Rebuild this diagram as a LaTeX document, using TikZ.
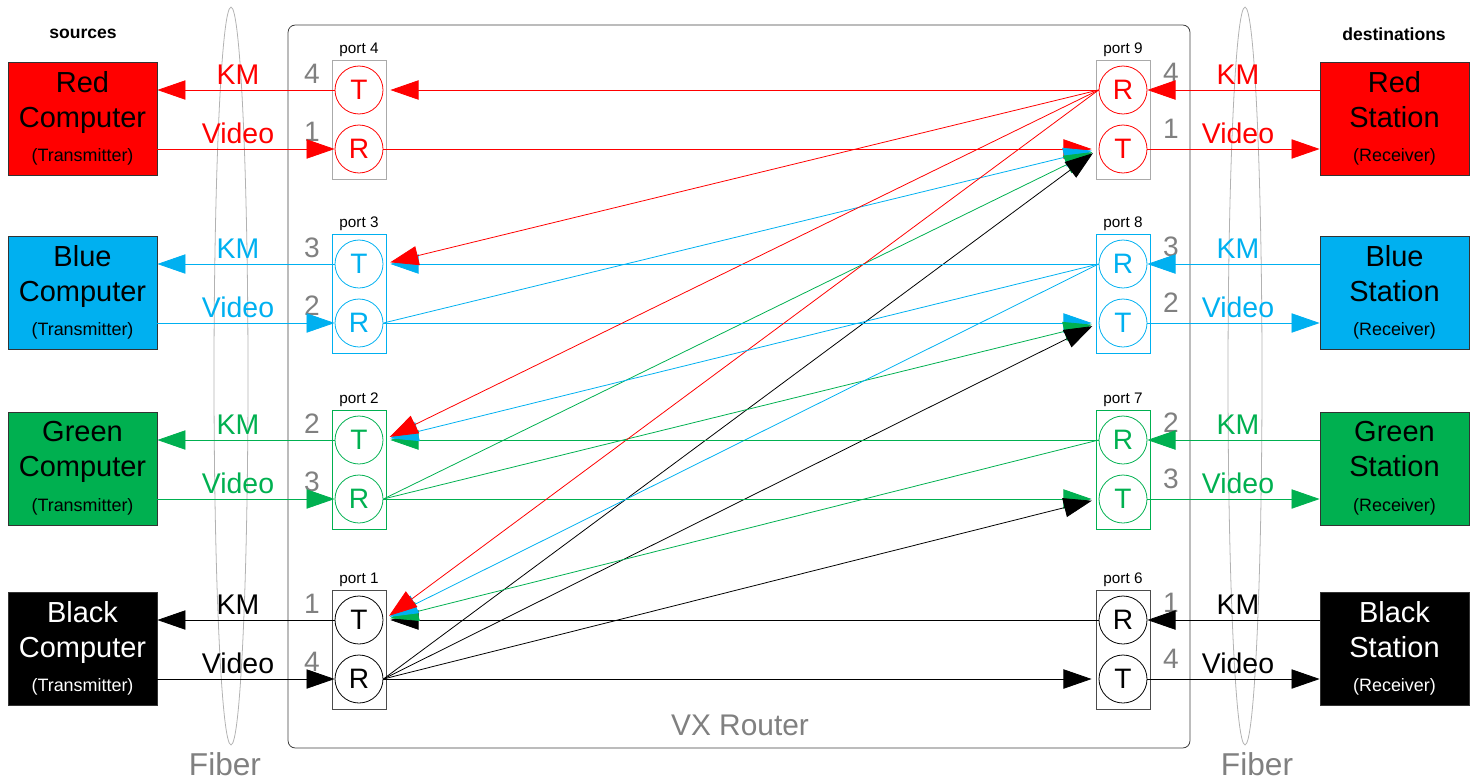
\documentclass[tikz,border=0pt]{standalone}
\usepackage{fontspec}
\setmainfont{Liberation Sans}
\usetikzlibrary{arrows.meta}

\definecolor{vxred}{RGB}{255,0,0}
\definecolor{vxblue}{RGB}{0,176,240}
\definecolor{vxgreen}{RGB}{0,176,80}
\definecolor{numgray}{RGB}{128,128,128}
\definecolor{boxgray}{RGB}{170,170,170}

\begin{document}
\begin{tikzpicture}[x=0.02cm,y=-0.02cm,
	line width=0.45pt,
	host/.style={draw=black!80,minimum width=2.98cm,minimum height=2.26cm,align=center,inner sep=0pt,
		font=\fontsize{16.5}{19.8}\selectfont},
	portbox/.style={draw,minimum width=1.08cm,minimum height=2.38cm,inner sep=0pt},
	jack/.style={shape=circle,draw,minimum size=0.96cm,inner sep=0pt,font=\fontsize{16}{18}\selectfont},
	portname/.style={anchor=south,inner sep=1.5pt,font=\fontsize{8.7}{10}\selectfont},
	num/.style={text=numgray,font=\fontsize{16}{18}\selectfont},
	sig/.style={font=\fontsize{16.2}{18}\selectfont},
	link/.style={-{Triangle[length=16pt,width=11pt]}},
	cross/.style={-{Triangle[length=16pt,width=11pt]},shorten >=4pt}]

	\useasboundingbox (0,0) rectangle (1477,781);

	% router and fiber
	\node[draw=black!75,rounded corners=4pt,minimum width=18.04cm,minimum height=14.46cm] (vx) at (739,386.5) {};
	\node[text=numgray,font=\fontsize{17}{20}\selectfont] (vxname) at (740,725) {VX Router};
	\draw[black!30] (231,376) ellipse [x radius=0.34cm, y radius=7.38cm];
	\draw[black!30] (1245,376) ellipse [x radius=0.34cm, y radius=7.38cm];
	\node[text=numgray,font=\fontsize{18}{21}\selectfont] (fibl) at (225,764) {Fiber};
	\node[text=numgray,font=\fontsize{18}{21}\selectfont] (fibr) at (1257,764) {Fiber};

	\node[font=\fontsize{10}{12}\selectfont\bfseries] (src) at (83,34) {sources};
	\node[font=\fontsize{10}{12}\selectfont\bfseries] (dst) at (1394,34) {destinations};

	% sources
	\node[host,fill=vxred] (rc) at (82.5,118.5) {Red\\Computer\\{\fontsize{10.2}{11}\selectfont(Transmitter)}};
	\node[host,fill=vxblue] (bc) at (82.5,292.5) {Blue\\Computer\\{\fontsize{10.2}{11}\selectfont(Transmitter)}};
	\node[host,fill=vxgreen] (gc) at (82.5,468.5) {Green\\Computer\\{\fontsize{10.2}{11}\selectfont(Transmitter)}};
	\node[host,fill=black,text=white] (kc) at (82.5,648.5) {Black\\Computer\\{\fontsize{10.2}{11}\selectfont(Transmitter)}};

	% destinations
	\node[host,fill=vxred] (rs) at (1394.5,118.5) {Red\\Station\\{\fontsize{10.2}{11}\selectfont(Receiver)}};
	\node[host,fill=vxblue] (bs) at (1394.5,292.5) {Blue\\Station\\{\fontsize{10.2}{11}\selectfont(Receiver)}};
	\node[host,fill=vxgreen] (gs) at (1394.5,468.5) {Green\\Station\\{\fontsize{10.2}{11}\selectfont(Receiver)}};
	\node[host,fill=black,text=white] (ks) at (1394.5,648.5) {Black\\Station\\{\fontsize{10.2}{11}\selectfont(Receiver)}};

	% left ports
	\node[portbox,draw=boxgray] (p4) at (359,119.5) {};
	\node[jack,vxred] (p4T) at (359,90) {T};
	\node[jack,vxred] (p4R) at (359,149) {R};
	\node[portname] at (p4.north) {port 4};

	\node[portbox,draw=vxblue] (p3) at (359,293.5) {};
	\node[jack,vxblue] (p3T) at (359,264) {T};
	\node[jack,vxblue] (p3R) at (359,323) {R};
	\node[portname] at (p3.north) {port 3};

	\node[portbox,draw=vxgreen] (p2) at (359,469.5) {};
	\node[jack,vxgreen] (p2T) at (359,440) {T};
	\node[jack,vxgreen] (p2R) at (359,499) {R};
	\node[portname] at (p2.north) {port 2};

	\node[portbox,draw=black!70] (p1) at (359,649.5) {};
	\node[jack,black] (p1T) at (359,620) {T};
	\node[jack,black] (p1R) at (359,679) {R};
	\node[portname] at (p1.north) {port 1};

	% right ports
	\node[portbox,draw=boxgray] (p9) at (1123,119.5) {};
	\node[jack,vxred] (p9R) at (1123,90) {R};
	\node[jack,vxred] (p9T) at (1123,149) {T};
	\node[portname] at (p9.north) {port 9};

	\node[portbox,draw=vxblue] (p8) at (1123,293.5) {};
	\node[jack,vxblue] (p8R) at (1123,264) {R};
	\node[jack,vxblue] (p8T) at (1123,323) {T};
	\node[portname] at (p8.north) {port 8};

	\node[portbox,draw=vxgreen] (p7) at (1123,469.5) {};
	\node[jack,vxgreen] (p7R) at (1123,440) {R};
	\node[jack,vxgreen] (p7T) at (1123,499) {T};
	\node[portname] at (p7.north) {port 7};

	\node[portbox,draw=black!70] (p6) at (1123,649.5) {};
	\node[jack,black] (p6R) at (1123,620) {R};
	\node[jack,black] (p6T) at (1123,679) {T};
	\node[portname] at (p6.north) {port 6};

	% fiber numbers
	\node[num] at (312,74) {4};  \node[num] at (312,132) {1};
	\node[num] at (312,248) {3}; \node[num] at (312,306) {2};
	\node[num] at (312,424) {2}; \node[num] at (312,482) {3};
	\node[num] at (312,604) {1}; \node[num] at (312,662) {4};
	\node[num] at (1171,73) {4};  \node[num] at (1171,129) {1};
	\node[num] at (1171,247) {3}; \node[num] at (1171,303) {2};
	\node[num] at (1171,423) {2}; \node[num] at (1171,479) {3};
	\node[num] at (1171,603) {1}; \node[num] at (1171,659) {4};

	% signal names
	\node[sig,vxred] at (238,75) {KM};    \node[sig,vxred] at (238,133) {Video};
	\node[sig,vxblue] at (238,249) {KM};  \node[sig,vxblue] at (238,307) {Video};
	\node[sig,vxgreen] at (238,425) {KM}; \node[sig,vxgreen] at (238,483) {Video};
	\node[sig] at (238,605) {KM};         \node[sig] at (238,663) {Video};
	\node[sig,vxred] at (1238,75) {KM};    \node[sig,vxred] at (1238,133) {Video};
	\node[sig,vxblue] at (1238,249) {KM};  \node[sig,vxblue] at (1238,307) {Video};
	\node[sig,vxgreen] at (1238,425) {KM}; \node[sig,vxgreen] at (1238,483) {Video};
	\node[sig] at (1238,605) {KM};         \node[sig] at (1238,663) {Video};

	% computers <-> left ports
	\path[link,vxred] (p4T.west) edge (p4T -| rc.east);
	\path[link,vxred] (p4R -| rc.east) edge (p4R.west);
	\path[link,vxblue] (p3T.west) edge (p3T -| bc.east);
	\path[link,vxblue] (p3R -| bc.east) edge (p3R.west);
	\path[link,vxgreen] (p2T.west) edge (p2T -| gc.east);
	\path[link,vxgreen] (p2R -| gc.east) edge (p2R.west);
	\path[link,black] (p1T.west) edge (p1T -| kc.east);
	\path[link,black] (p1R -| kc.east) edge (p1R.west);

	% right ports <-> stations
	\path[link,vxred] (p9R -| rs.west) edge (p9R.east);
	\path[link,vxred] (p9T.east) edge (p9T -| rs.west);
	\path[link,vxblue] (p8R -| bs.west) edge (p8R.east);
	\path[link,vxblue] (p8T.east) edge (p8T -| bs.west);
	\path[link,vxgreen] (p7R -| gs.west) edge (p7R.east);
	\path[link,vxgreen] (p7T.east) edge (p7T -| gs.west);
	\path[link,black] (p6R -| ks.west) edge (p6R.east);
	\path[link,black] (p6T.east) edge (p6T -| ks.west);

	% video through the router
	\path[cross,vxred] (p4R.east) edge (p9T.west);
	\path[cross,vxblue] (p3R.east) edge (p9T.west);
	\path[cross,vxgreen] (p2R.east) edge (p9T.west);
	\path[cross,black] (p1R.east) edge (p9T.west);
	\path[cross,vxblue] (p3R.east) edge (p8T.west);
	\path[cross,vxgreen] (p2R.east) edge (p8T.west);
	\path[cross,black] (p1R.east) edge (p8T.west);
	\path[cross,vxgreen] (p2R.east) edge (p7T.west);
	\path[cross,black] (p1R.east) edge (p7T.west);
	\path[cross,black] (p1R.east) edge (p6T.west);

	% KM through the router
	\path[cross,black] (p6R.west) edge (p1T.east);
	\path[cross,vxgreen] (p7R.west) edge (p1T.east);
	\path[cross,vxblue] (p8R.west) edge (p1T.east);
	\path[cross,vxred] (p9R.west) edge (p1T.east);
	\path[cross,vxgreen] (p7R.west) edge (p2T.east);
	\path[cross,vxblue] (p8R.west) edge (p2T.east);
	\path[cross,vxred] (p9R.west) edge (p2T.east);
	\path[cross,vxblue] (p8R.west) edge (p3T.east);
	\path[cross,vxred] (p9R.west) edge (p3T.east);
	\path[cross,vxred] (p9R.west) edge (p4T.east);
\end{tikzpicture}
\end{document}
